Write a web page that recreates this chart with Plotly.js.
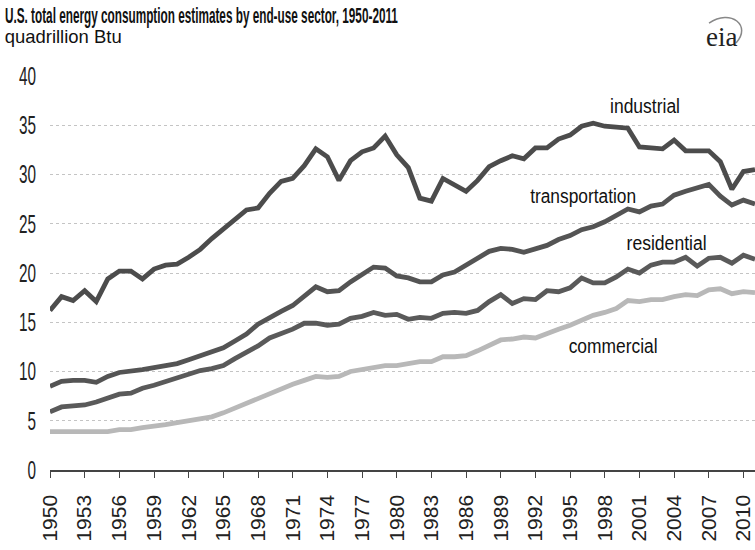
<!DOCTYPE html>
<html>
<head>
<meta charset="utf-8">
<script src="https://cdn.plot.ly/plotly-3.0.1.min.js"></script>
<style>
  html, body { margin: 0; padding: 0; background: #fff; }
  #chart { width: 755px; height: 550px; }
</style>
</head>
<body>
<div id="chart"></div>
<script>
const years = [];
for (let y = 1950; y <= 2011; y++) years.push(y);

const industrial = [16.2, 17.6, 17.2, 18.2, 17.1, 19.4, 20.2, 20.2, 19.4, 20.4,
  20.8, 20.9, 21.6, 22.4, 23.5, 24.5, 25.4, 26.4, 26.6, 28.1,
  29.3, 29.6, 30.9, 32.6, 31.8, 29.4, 31.4, 32.3, 32.7, 33.9,
  32.0, 30.7, 27.6, 27.3, 29.6, 28.9, 28.3, 29.4, 30.8, 31.4,
  31.9, 31.6, 32.7, 32.7, 33.6, 34.0, 34.9, 35.2, 34.9, 34.8,
  34.7, 32.8, 32.7, 32.6, 33.5, 32.4, 32.4, 32.4, 31.3, 28.5,
  30.3, 30.5];

const transportation = [8.5, 9.0, 9.1, 9.1, 8.9, 9.5, 9.9, 10.0, 10.2, 10.4,
  10.6, 10.8, 11.2, 11.6, 11.9, 12.4, 13.1, 13.8, 14.8, 15.5,
  16.1, 16.7, 17.7, 18.6, 18.1, 18.2, 19.1, 19.8, 20.6, 20.5,
  19.7, 19.5, 19.1, 19.1, 19.8, 20.1, 20.8, 21.4, 22.2, 22.5,
  22.4, 22.1, 22.4, 22.8, 23.4, 23.8, 24.4, 24.7, 25.2, 25.9,
  26.5, 26.2, 26.8, 27.0, 27.9, 28.3, 28.7, 29.0, 27.8, 26.9,
  27.4, 27.0];

const residential = [5.9, 6.4, 6.5, 6.6, 6.9, 7.3, 7.7, 7.8, 8.3, 8.6,
  9.0, 9.3, 9.8, 10.1, 10.3, 10.6, 11.3, 11.9, 12.6, 13.4,
  13.8, 14.3, 14.9, 14.9, 14.7, 14.8, 15.4, 15.6, 16.0, 15.7,
  15.8, 15.3, 15.5, 15.4, 15.9, 16.0, 15.9, 16.2, 17.1, 17.8,
  16.9, 17.4, 17.3, 18.2, 18.1, 18.5, 19.5, 19.0, 19.0, 19.6,
  20.4, 20.0, 20.8, 21.1, 21.1, 21.6, 20.7, 21.5, 21.6, 21.0,
  21.8, 21.4];

const commercial = [3.9, 3.9, 3.9, 3.9, 3.9, 3.9, 4.1, 4.1, 4.3, 4.4,
  4.6, 4.8, 5.0, 5.2, 5.4, 5.8, 6.3, 6.8, 7.3, 7.8,
  8.3, 8.7, 9.1, 9.5, 9.4, 9.5, 10.0, 10.2, 10.5, 10.6,
  10.6, 10.8, 11.0, 11.0, 11.5, 11.5, 11.6, 12.1, 12.6, 13.2,
  13.3, 13.5, 13.4, 13.9, 14.3, 14.7, 15.2, 15.7, 16.0, 16.4,
  17.2, 17.1, 17.3, 17.3, 17.6, 17.8, 17.7, 18.3, 18.4, 17.9,
  18.1, 18.0];

const tickYears = [];
for (let y = 1950; y <= 2010; y += 3) tickYears.push(y);
const tickLabels = tickYears.map(String);
const yTicks = [0, 5, 10, 15, 20, 25, 30, 35, 40];

const sans = '"Liberation Sans", Arial, sans-serif';

function tr(name, vals, color) {
  return { x: years, y: vals, type: 'scatter', mode: 'lines', name: name,
    line: { color: color, width: 4.8 }, hoverinfo: 'skip', cliponaxis: false };
}

const data = [
  tr('commercial', commercial, '#b8b8b8'),
  tr('residential', residential, '#5a5a5a'),
  tr('transportation', transportation, '#545454'),
  tr('industrial', industrial, '#4c4c4c')
];

// target rendered widths (px) of the condensed texts, by annotation order
const condensedWidths = [393, 117, 70, 106, 80, 89, null];

const layout = {
  width: 755, height: 550,
  margin: { l: 50, r: 0, t: 76, b: 80 },
  paper_bgcolor: '#fff', plot_bgcolor: '#fff',
  showlegend: false,
  xaxis: {
    range: [1950, 2011],
    tickmode: 'array', tickvals: tickYears, ticktext: tickLabels,
    tickangle: -90,
    ticks: 'outside', ticklen: 6, tickcolor: '#444', tickwidth: 1,
    ticklabelstandoff: 9,
    showline: true, linecolor: '#444', linewidth: 1.5,
    showgrid: false, zeroline: false,
    tickfont: { family: sans, size: 21, color: '#222' }
  },
  yaxis: {
    range: [0, 40],
    tickmode: 'array', tickvals: yTicks,
    ticks: '', ticklabelstandoff: 13,
    showgrid: true, gridcolor: '#c4c4c4', gridwidth: 1, griddash: 'dot',
    zeroline: false, showline: false,
    tickfont: { family: sans, size: 25, color: '#222' }
  },
  annotations: [
    { xref: 'paper', yref: 'paper', x: 0.2149, y: 1.154, xanchor: 'center', yanchor: 'middle',
      text: '<b>U.S. total energy consumption estimates by end-use sector, 1950-2011</b>',
      showarrow: false, font: { family: sans, size: 22, color: '#111' } },
    { xref: 'paper', yref: 'paper', x: 0.0191, y: 1.099, xanchor: 'center', yanchor: 'middle',
      text: 'quadrillion Btu', showarrow: false,
      font: { family: sans, size: 19, color: '#111' } },
    { xref: 'x', yref: 'y', x: 2001.5, y: 36.95, text: 'industrial', showarrow: false,
      font: { family: sans, size: 20, color: '#111' } },
    { xref: 'x', yref: 'y', x: 1996.1, y: 27.8, text: 'transportation', showarrow: false,
      font: { family: sans, size: 20, color: '#111' } },
    { xref: 'x', yref: 'y', x: 2003.3, y: 23.0, text: 'residential', showarrow: false,
      font: { family: sans, size: 20, color: '#111' } },
    { xref: 'x', yref: 'y', x: 1998.7, y: 12.6, text: 'commercial', showarrow: false,
      font: { family: sans, size: 20, color: '#111' } },
    { xref: 'paper', yref: 'paper', x: 0.9518, y: 1.099, xanchor: 'center', yanchor: 'middle',
      text: 'eia', showarrow: false,
      font: { family: '"Liberation Serif", "DejaVu Serif", serif', size: 27, color: '#222' } }
  ],
  shapes: [
    { type: 'path', xref: 'paper', yref: 'paper',
      path: 'M 0.9348 1.1345 C 0.9660 1.1726 0.9958 1.1269 0.9731 1.0838',
      line: { color: '#888', width: 1.5 } }
  ]
};

Plotly.newPlot('chart', data, layout, { displayModeBar: false, staticPlot: true }).then(function (gd) {
  // condensed lettering like the original
  const anns = gd.querySelectorAll('.annotation');
  anns.forEach(function (g, i) {
    const w = condensedWidths[i];
    if (!w) return;
    const t = g.querySelector('text.annotation-text');
    if (!t) return;
    t.setAttribute('textLength', w);
    t.setAttribute('lengthAdjust', 'spacingAndGlyphs');
  });
  gd.querySelectorAll('.ytick text').forEach(function (t) {
    const n = t.textContent.length;
    t.setAttribute('textLength', n * 8.5);
    t.setAttribute('lengthAdjust', 'spacingAndGlyphs');
  });
});
</script>
</body>
</html>
